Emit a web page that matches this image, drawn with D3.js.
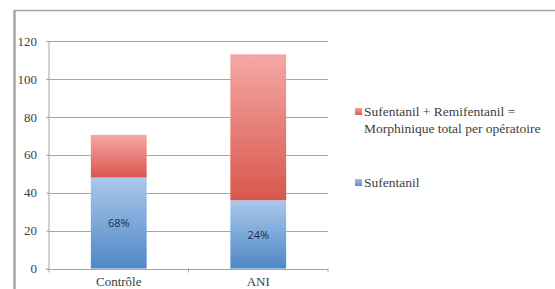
<!DOCTYPE html>
<html><head><meta charset="utf-8">
<script src="https://cdn.jsdelivr.net/npm/d3@7"></script>
<style>body{margin:0;background:#fff}svg{display:block}
.serif{font-family:"Liberation Serif","Times New Roman",serif}
.sans{font-family:"Open Sans","Liberation Sans",sans-serif}</style>
</head><body>
<script>
const categories = ["Contrôle", "ANI"];
const sufentanil = [48, 36];
const remifentanilAdded = [22.5, 77];
const pctLabels = ["68%", "24%"];
const yTicks = [0, 20, 40, 60, 80, 100, 120];
const legendLabels = [["Sufentanil + Remifentanil =", "Morphinique total per opératoire"], ["Sufentanil"]];

const W = 555, H = 289;
const svg = d3.select("body").append("svg").attr("width", W).attr("height", H);
const defs = svg.append("defs");
function grad(id, top, bottom) {
  const g = defs.append("linearGradient").attr("id", id).attr("x1", 0).attr("y1", 0).attr("x2", 0).attr("y2", 1);
  g.append("stop").attr("offset", "0%").attr("stop-color", top);
  g.append("stop").attr("offset", "100%").attr("stop-color", bottom);
}
grad("gBlue", "#aac9ec", "#4f87c6");
grad("gRed", "#f5a8a5", "#d8574d");
grad("gBlueL", "#9ec0e8", "#5a8fcc");
grad("gRedL", "#f0a09c", "#dc5e55");

// outer frame
svg.append("line").attr("x1", 14.5).attr("x2", 14.5).attr("y1", 10).attr("y2", H).attr("stroke", "#a6a6a6").attr("stroke-width", 2.5);
svg.append("line").attr("x1", 14).attr("x2", W).attr("y1", 10.5).attr("y2", 10.5).attr("stroke", "#a6a6a6").attr("stroke-width", 1.5);

const x = d3.scaleBand().domain(categories).range([49, 328]).paddingInner(0.6).paddingOuter(0.3);
const y = d3.scaleLinear().domain([0, 120]).range([268.5, 41]);

// gridlines
svg.append("g").selectAll("line").data(yTicks.filter(d => d > 0)).join("line")
  .attr("x1", 49).attr("x2", 328).attr("y1", d => Math.round(y(d)) + 0.5).attr("y2", d => Math.round(y(d)) + 0.5)
  .attr("stroke", "#a6a6a6").attr("stroke-width", 1);

// stacked bars
const rows = categories.map((c, i) => ({cat: c, suf: sufentanil[i], rem: remifentanilAdded[i]}));
const stack = d3.stack().keys(["suf", "rem"])(rows);
const fills = {suf: "url(#gBlue)", rem: "url(#gRed)"};
stack.forEach(s => {
  svg.append("g").selectAll("rect").data(s).join("rect")
    .attr("x", d => x(d.data.cat))
    .attr("width", x.bandwidth())
    .attr("y", d => y(d[1]))
    .attr("height", d => y(d[0]) - y(d[1]))
    .attr("fill", fills[s.key]);
});

// axes
const yAxis = d3.axisLeft(y).tickValues(yTicks).tickSize(3).tickPadding(9);
const ya = svg.append("g").attr("transform", "translate(49,0)").call(yAxis);
ya.attr("font-family", null).attr("font-size", null);
ya.select(".domain").attr("stroke", "#a6a6a6").attr("d", "M0," + y(120) + "V" + y(0));
ya.selectAll(".tick line").attr("stroke", "#a6a6a6");
ya.selectAll("text").attr("class", "serif").style("font-size", "13px").attr("fill", "#404040");

svg.append("line").attr("x1", 46).attr("x2", 328).attr("y1", Math.round(y(0)) + 0.5).attr("y2", Math.round(y(0)) + 0.5).attr("stroke", "#a6a6a6");
const xTickPos = [49, 188.5, 328];
svg.append("g").selectAll("line").data(xTickPos).join("line")
  .attr("x1", d => d).attr("x2", d => d).attr("y1", y(0)).attr("y2", y(0) + 4).attr("stroke", "#a6a6a6");

svg.append("g").selectAll("text").data(categories).join("text")
  .attr("x", d => x(d) + x.bandwidth() / 2).attr("y", 286)
  .attr("text-anchor", "middle").attr("class", "serif").style("font-size", "13px").attr("fill", "#404040")
  .text(d => d);

// percentage labels
svg.append("g").selectAll("text").data(rows).join("text")
  .attr("x", d => x(d.cat) + x.bandwidth() / 2)
  .attr("y", (d, i) => i === 0 ? 227 : 239)
  .attr("text-anchor", "middle").attr("class", "sans").style("font-size", "11px").attr("fill", "#1f2d3d")
  .text((d, i) => pctLabels[i]);

// legend
const leg = svg.append("g");
const legItems = [{fill: "url(#gRedL)", lines: legendLabels[0], y: 116}, {fill: "url(#gBlueL)", lines: legendLabels[1], y: 187}];
legItems.forEach(it => {
  leg.append("rect").attr("x", 355).attr("y", it.y - 8).attr("width", 7).attr("height", 7).attr("fill", it.fill);
  const t = leg.append("text").attr("x", 364).attr("y", it.y).attr("class", "serif").style("font-size", "13.5px").attr("fill", "#404040");
  it.lines.forEach((l, i) => t.append("tspan").attr("x", 364).attr("dy", i ? 17 : 0).text(l));
});
</script>
</body></html>
